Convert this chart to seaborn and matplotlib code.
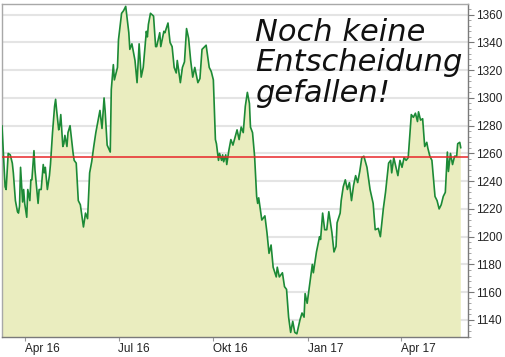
import pandas as pd
import matplotlib
matplotlib.use("Agg")
import matplotlib.pyplot as plt
from matplotlib.ticker import MultipleLocator
import seaborn as sns

start = "2016-03-10"
tage = [0, 3, 4, 6, 8, 10, 11, 13, 15, 16, 17, 18, 20, 21, 22, 24, 25, 27, 28, 29,
        31, 32, 35, 36, 38, 40, 41, 42, 44, 46, 47, 49, 51, 52, 53, 55, 56, 57, 59, 60,
        61, 63, 64, 66, 69, 70, 72, 74, 76, 79, 81, 83, 85, 87, 89, 91, 95, 97, 99, 100,
        102, 105, 106, 108, 109, 112, 113, 116, 118, 120, 123, 124, 126, 127, 129, 131, 133, 135, 137, 140,
        141, 142, 144, 147, 149, 150, 153, 154, 157, 158, 161, 163, 165, 167, 169, 170, 173, 175, 177, 179,
        181, 183, 185, 187, 190, 192, 194, 198, 201, 203, 205, 207, 208, 210, 211, 213, 214, 215, 217, 218,
        220, 222, 224, 228, 230, 232, 234, 236, 238, 240, 241, 243, 245, 247, 248, 249, 252, 255, 257, 259,
        261, 263, 266, 267, 269, 272, 274, 276, 278, 280, 282, 284, 286, 289, 291, 293, 294, 296, 301, 302,
        305, 308, 309, 311, 313, 315, 317, 320, 322, 324, 325, 328, 329, 331, 333, 335, 337, 339, 341, 343,
        345, 347, 349, 351, 354, 357, 360, 362, 365, 367, 370, 372, 375, 377, 378, 380, 384, 386, 388, 390,
        392, 394, 397, 399, 401, 403, 404, 406, 408, 410, 412, 413, 415, 417, 420, 422, 424, 426, 428, 430,
        432, 433, 435, 437, 439, 441, 442, 444, 445]
kurs = [1280, 1236, 1234, 1260, 1259, 1253, 1246, 1226, 1218, 1217, 1222, 1250, 1225, 1234, 1224, 1214, 1234, 1226, 1241, 1241,
        1262, 1248, 1224, 1234, 1234, 1252, 1246, 1250, 1234, 1244, 1252, 1275, 1294, 1299, 1291, 1277, 1280, 1288, 1265, 1267,
        1273, 1265, 1275, 1280, 1260, 1255, 1253, 1226, 1223, 1207, 1217, 1213, 1246, 1254, 1265, 1275, 1291, 1278, 1300, 1291,
        1266, 1261, 1306, 1324, 1313, 1322, 1342, 1361, 1363, 1366, 1347, 1335, 1339, 1335, 1327, 1311, 1339, 1315, 1322, 1348,
        1344, 1353, 1361, 1359, 1337, 1337, 1347, 1337, 1348, 1347, 1354, 1340, 1337, 1322, 1318, 1327, 1311, 1322, 1326, 1350,
        1343, 1327, 1315, 1322, 1311, 1314, 1335, 1338, 1322, 1319, 1313, 1270, 1267, 1255, 1260, 1255, 1259, 1254, 1259, 1252,
        1262, 1270, 1266, 1277, 1270, 1279, 1275, 1294, 1304, 1296, 1279, 1275, 1258, 1229, 1224, 1228, 1212, 1215, 1203, 1188,
        1194, 1178, 1171, 1178, 1171, 1174, 1164, 1162, 1142, 1131, 1139, 1131, 1130, 1140, 1145, 1142, 1159, 1152, 1180, 1174,
        1189, 1200, 1198, 1217, 1205, 1205, 1218, 1203, 1189, 1193, 1210, 1217, 1226, 1236, 1241, 1234, 1239, 1226, 1237, 1244,
        1239, 1247, 1257, 1258, 1250, 1234, 1224, 1205, 1206, 1200, 1221, 1232, 1253, 1255, 1246, 1257, 1244, 1255, 1250, 1257,
        1255, 1257, 1288, 1286, 1289, 1283, 1290, 1284, 1285, 1265, 1268, 1264, 1258, 1255, 1229, 1226, 1220, 1223, 1229, 1232,
        1261, 1247, 1260, 1252, 1258, 1258, 1267, 1268, 1264]
referenz = 1257.5

tick_daten = ["2016-04-01", "2016-07-01", "2016-10-01", "2017-01-01", "2017-04-01"]
tick_labels = ["Apr 16", "Jul 16", "Okt 16", "Jan 17", "Apr 17"]
y_ticks = [1140, 1160, 1180, 1200, 1220, 1240, 1260, 1280, 1300, 1320, 1340, 1360]

df = pd.DataFrame({"datum": pd.Timestamp(start) + pd.to_timedelta(tage, unit="D"), "kurs": kurs})

sns.set_theme(style="white")
plt.rcParams["font.family"] = ["Liberation Sans", "DejaVu Sans"]

fig = plt.figure(figsize=(5.06, 3.57), dpi=100)
ax = fig.add_axes([2 / 506, 20 / 357, 466 / 506, 333 / 357])

ax.fill_between(df["datum"], df["kurs"], 1100, color="#eaedbf", linewidth=0, zorder=1)
sns.lineplot(data=df, x="datum", y="kurs", ax=ax, color="#1c8a36", linewidth=1.2,
             estimator=None, zorder=3)
ax.axhline(referenz, color="#e8262a", linewidth=1.1, zorder=4)

ax.set_xlim(pd.Timestamp(start), pd.Timestamp("2017-06-05"))
ax.set_ylim(1127.7, 1367.7)

# Achsen
ax.yaxis.tick_right()
ax.set_yticks(y_ticks)
ax.yaxis.set_minor_locator(MultipleLocator(4))
ax.set_xticks(pd.to_datetime(tick_daten))
ax.set_xticklabels(tick_labels, ha="left")
ax.tick_params(axis="y", which="major", direction="out", length=4, width=0.8,
               color="#777777", labelsize=8.5, labelcolor="#222222", pad=2, right=True, left=False)
ax.tick_params(axis="y", which="minor", direction="out", length=2, width=0.6,
               color="#999999", right=True, left=False)
ax.tick_params(axis="x", direction="out", length=3, width=0.8, color="#999999",
               labelsize=8.5, labelcolor="#222222", pad=1.5, bottom=True)
ax.set_xlabel("")
ax.set_ylabel("")

ax.grid(axis="y", color="#e4e4e4", linewidth=1.5, zorder=0)
ax.grid(axis="x", visible=False)
ax.set_axisbelow(True)

for s in ["left", "top"]:
    ax.spines[s].set_color("#a8a8a8")
    ax.spines[s].set_linewidth(1.0)
for s in ["right", "bottom"]:
    ax.spines[s].set_color("#7a7a7a")
    ax.spines[s].set_linewidth(1.0)

ax.text(0.543, 0.957, "Noch keine\nEntscheidung\ngefallen!", transform=ax.transAxes,
        ha="left", va="top", fontsize=22, style="italic", color="#111111",
        family=["DejaVu Sans"], linespacing=1.05, zorder=5)

fig.savefig("out.png", dpi=100)
